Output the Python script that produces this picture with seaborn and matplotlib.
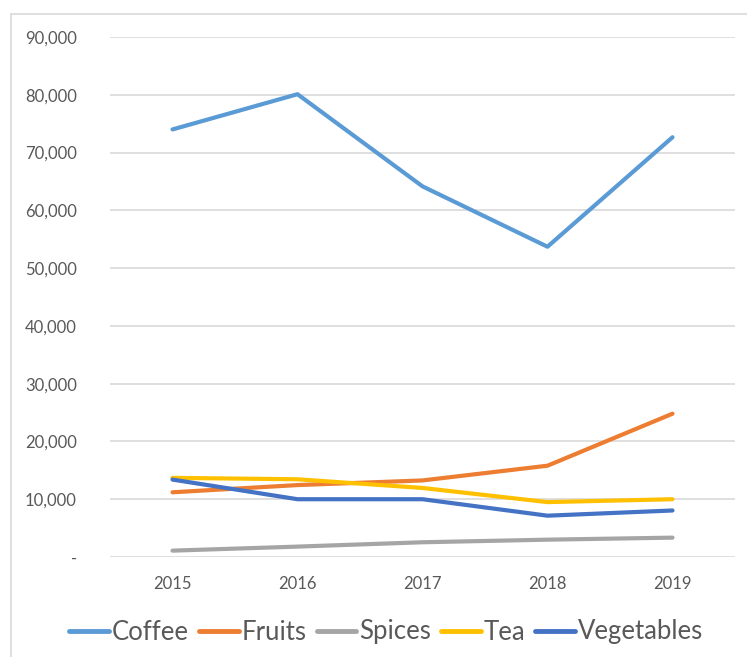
import matplotlib
matplotlib.use('Agg')
import matplotlib.pyplot as plt
import numpy as np
import pandas as pd
import seaborn as sns
from matplotlib.patches import Rectangle
from matplotlib.ticker import FuncFormatter

years = ['2015', '2016', '2017', '2018', '2019']
coffee = [74000, 80100, 64150, 53700, 72650]
fruits = [11200, 12450, 13250, 15800, 24800]
spices = [1100, 1800, 2550, 3000, 3350]
tea = [13700, 13450, 11950, 9500, 10000]
vegetables = [13400, 10000, 10000, 7150, 8050]

series = {'Coffee': coffee, 'Fruits': fruits, 'Spices': spices,
          'Tea': tea, 'Vegetables': vegetables}
colors = {'Coffee': '#5B9BD5', 'Fruits': '#ED7D31', 'Spices': '#A5A5A5',
          'Tea': '#FFC000', 'Vegetables': '#4472C4'}

rows = []
for name, vals in series.items():
    for yr, v in zip(years, vals):
        rows.append({'year': yr, 'value': v, 'product': name})
df = pd.DataFrame(rows)

sns.set_style('white')
plt.rcParams['font.family'] = ['Lato', 'DejaVu Sans']

fig = plt.figure(figsize=(7.47, 6.57), dpi=100)
ax = fig.add_axes([110 / 747, 1 - 557 / 657, 625 / 747, 520 / 657])

# outer chart border
fig.patches.append(Rectangle((11 / 747, -0.1), 1.1, 1 - 14 / 657 + 0.1,
                             transform=fig.transFigure, fill=False,
                             edgecolor='#D9D9D9', lw=1.2))

df['x'] = df['year'].map({y: i for i, y in enumerate(years)})
sns.lineplot(data=df, x='x', y='value', hue='product', palette=colors,
             linewidth=3, ax=ax, legend=False, solid_capstyle='round')

ax.set_xlim(-0.5, 4.5)
ax.set_ylim(0, 90000)
ax.set_yticks(np.arange(0, 90001, 10000))
ax.yaxis.set_major_formatter(FuncFormatter(lambda v, p: '-' if v == 0 else f'{int(v):,}'))
ax.set_xticks(range(len(years)))
ax.set_xticklabels(years)
ax.grid(axis='y', color='#D9D9D9', lw=1.2)
ax.set_axisbelow(True)
for s in ax.spines.values():
    s.set_visible(False)
ax.tick_params(axis='y', length=0, pad=24, labelsize=12, labelcolor='#595959')
ax.tick_params(axis='x', length=0, pad=14, labelsize=12, labelcolor='#595959')
ax.set_xlabel('')
ax.set_ylabel('')

handles = [plt.Line2D([], [], color=colors[n], lw=3.5) for n in series]
fig.legend(handles, list(series.keys()), loc='center', ncol=5,
           bbox_to_anchor=(0.517, 1 - 632 / 657), frameon=False,
           fontsize=18.5, handlelength=1.55, handletextpad=0.1, columnspacing=0.4,
           labelcolor='#595959')

plt.savefig('out.png', dpi=100)
